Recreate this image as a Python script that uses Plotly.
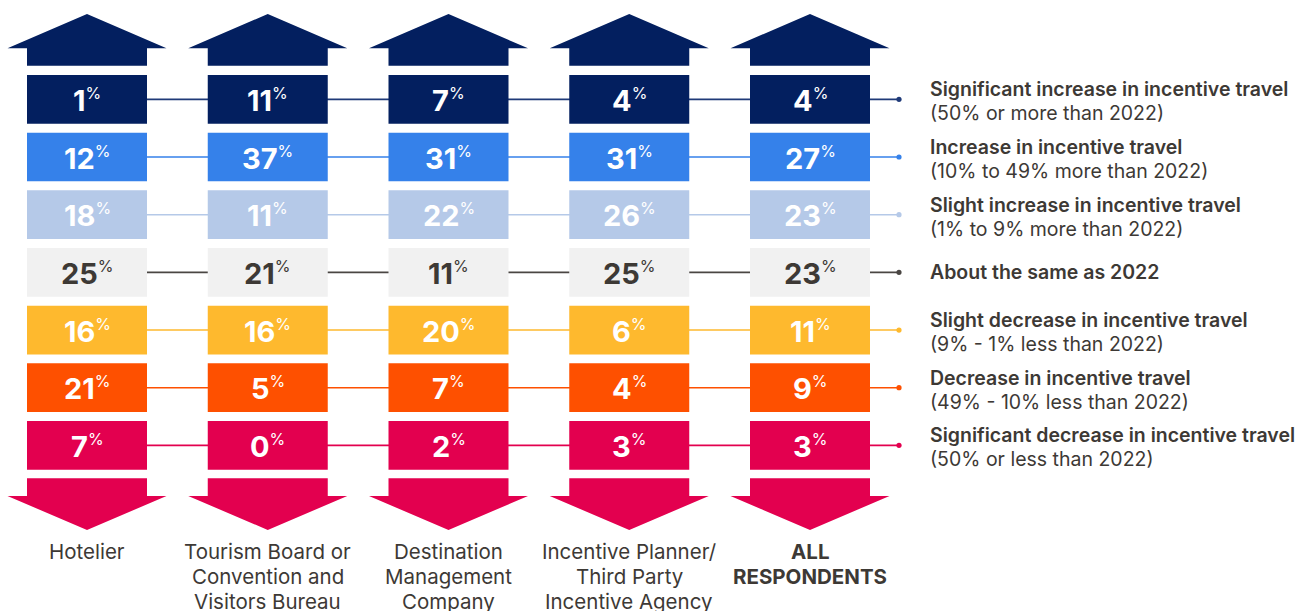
import plotly.graph_objects as go

# ---- data ----
categories = [["Hotelier"],
              ["Tourism Board or", "Convention and", "Visitors Bureau"],
              ["Destination", "Management", "Company"],
              ["Incentive Planner/", "Third Party", "Incentive Agency"],
              ["ALL", "RESPONDENTS"]]
response_titles = [
    "Significant increase in incentive travel",
    "Increase in incentive travel",
    "Slight increase in incentive travel",
    "About the same as 2022",
    "Slight decrease in incentive travel",
    "Decrease in incentive travel",
    "Significant decrease in incentive travel",
]
response_notes = [
    "(50% or more than 2022)",
    "(10% to 49% more than 2022)",
    "(1% to 9% more than 2022)",
    "",
    "(9% - 1% less than 2022)",
    "(49% - 10% less than 2022)",
    "(50% or less than 2022)",
]
hotelier = [1, 12, 18, 25, 16, 21, 7]
tourism_board = [11, 37, 11, 21, 16, 5, 0]
dmc = [7, 31, 22, 11, 20, 7, 2]
incentive_planner = [4, 31, 26, 25, 6, 4, 3]
all_respondents = [4, 27, 23, 23, 11, 9, 3]
series = [hotelier, tourism_board, dmc, incentive_planner, all_respondents]

# ---- styles ----
row_colors = ["#031f5f", "#3581ea", "#b5c9e8", "#f1f1f1", "#feb92e", "#fe5000", "#e3004f"]
line_colors = ["#1f3a78", "#3581ea", "#b5c9e8", "#4a4643", "#feb92e", "#fe5000", "#e3004f"]
text_colors = ["white", "white", "white", "#3d3935", "white", "white", "white"]
dark = "#3d3935"
FONT = "Inter"

W, H = 1316, 611
col_x0, col_pitch = 87, 180.75
box_w = 120
row_y0, row_pitch, box_h = 75, 57.67, 48.7
dot_x = 899

fig = go.Figure()
fig.add_trace(go.Scatter(x=[0, W], y=[0, H], mode="markers",
                         marker=dict(opacity=0), hoverinfo="skip", showlegend=False))

shapes = []
annotations = []

col_centers = [col_x0 + col_pitch * i for i in range(len(categories))]
row_tops = [row_y0 + row_pitch * j for j in range(len(response_titles))]

# connecting lines + dots + legend labels
for j, top in enumerate(row_tops):
    cy = top + box_h / 2
    shapes.append(dict(type="line", x0=col_centers[0], x1=dot_x, y0=cy, y1=cy,
                       line=dict(color=line_colors[j], width=1.6), layer="above"))
    shapes.append(dict(type="circle", x0=dot_x - 2.6, x1=dot_x + 2.6, y0=cy - 2.6, y1=cy + 2.6,
                       fillcolor=line_colors[j], line=dict(width=0), layer="above"))
    two = bool(response_notes[j])
    annotations.append(dict(x=928, y=cy - 10 if two else cy, text=response_titles[j],
                            showarrow=False, xanchor="left", yanchor="middle", align="left",
                            font=dict(family=FONT, size=19.5, color=dark, weight=600)))
    if two:
        annotations.append(dict(x=928, y=cy + 14, text=response_notes[j],
                                showarrow=False, xanchor="left", yanchor="middle", align="left",
                                font=dict(family=FONT, size=19.5, color=dark)))

for i, cx in enumerate(col_centers):
    # up arrow
    up = (f"M {cx},14 L {cx+79.5},48.3 L {cx+60},48.3 L {cx+60},65.7 "
          f"L {cx-60},65.7 L {cx-60},48.3 L {cx-79.5},48.3 Z")
    shapes.append(dict(type="path", path=up, fillcolor=row_colors[0],
                       line=dict(width=0), layer="above"))
    # down arrow
    dn = (f"M {cx-60},478.3 L {cx+60},478.3 L {cx+60},496 L {cx+79.5},496 "
          f"L {cx},530 L {cx-79.5},496 L {cx-60},496 Z")
    shapes.append(dict(type="path", path=dn, fillcolor=row_colors[-1],
                       line=dict(width=0), layer="above"))
    for j, top in enumerate(row_tops):
        shapes.append(dict(type="rect", x0=cx - box_w / 2, x1=cx + box_w / 2,
                           y0=top, y1=top + box_h, fillcolor=row_colors[j],
                           line=dict(width=0), layer="above"))
        annotations.append(dict(
            x=cx, y=top + box_h / 2 + 1,
            text=f"<b>{series[i][j]}</b><sup><span style='font-size:16px'>%</span></sup>",
            showarrow=False, xanchor="center", yanchor="middle",
            font=dict(family=FONT, size=29, color=text_colors[j])))
    is_all = i == len(categories) - 1
    for k, line in enumerate(categories[i]):
        annotations.append(dict(x=cx, y=551 + 25 * k, text=line, showarrow=False,
                                xanchor="center", yanchor="middle",
                                font=dict(family=FONT, size=20.5, color=dark,
                                          weight=700 if is_all else 400)))

fig.update_layout(
    width=W, height=H, margin=dict(l=0, r=0, t=0, b=0),
    paper_bgcolor="white", plot_bgcolor="white",
    xaxis=dict(range=[0, W], visible=False, fixedrange=True),
    yaxis=dict(range=[H, 0], visible=False, fixedrange=True),
    shapes=shapes, annotations=annotations, showlegend=False,
)

fig.write_html("out.html", config={"displayModeBar": False},
               post_script="document.body.style.margin='0';")
